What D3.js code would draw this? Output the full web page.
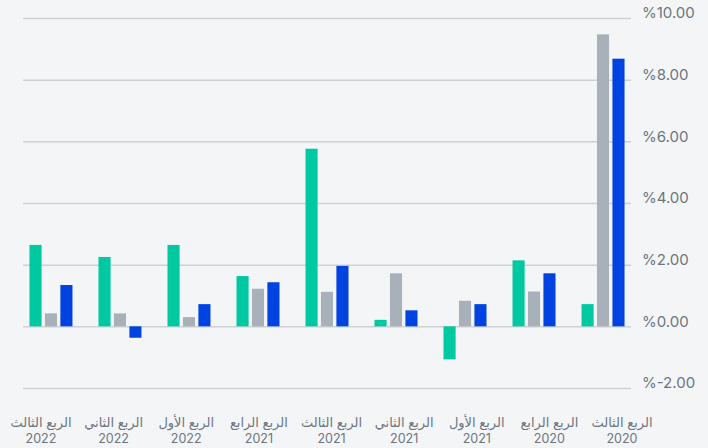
<!DOCTYPE html>
<html>
<head>
<meta charset="utf-8">
<script src="https://cdn.jsdelivr.net/npm/d3@7"></script>
<style>
  html, body { margin: 0; padding: 0; background: #f4f5f7; }
  svg { display: block; }
</style>
</head>
<body>
<div id="chart"></div>
<script>
const width = 708;
const height = 448;

// quarters, left to right as drawn
const quarters = ["الربع الثالث", "الربع الثاني", "الربع الأول", "الربع الرابع", "الربع الثالث", "الربع الثاني", "الربع الأول", "الربع الرابع", "الربع الثالث"];
const years = ["2022", "2022", "2022", "2021", "2021", "2021", "2021", "2020", "2020"];
const categories = quarters.map((q, i) => q + " " + years[i]);

const seriesNames = ["a", "b", "c"];
const seriesColors = ["#00c8a0", "#a8b1b9", "#0043e0"];
const seriesA = [2.64, 2.25, 2.64, 1.63, 5.76, 0.21, -1.07, 2.14, 0.72];
const seriesB = [0.42, 0.42, 0.30, 1.22, 1.12, 1.72, 0.83, 1.13, 9.47];
const seriesC = [1.34, -0.37, 0.72, 1.43, 1.96, 0.52, 0.72, 1.72, 8.68];

const yTicks = [-2, 0, 2, 4, 6, 8, 10];

const svg = d3.select("#chart")
    .append("svg")
    .attr("width", width)
    .attr("height", height);

const y = d3.scaleLinear()
    .domain([-2, 10])
    .range([388, 18]);

const x0 = d3.scaleBand()
    .domain(categories)
    .range([16.5, 637.5])
    .paddingInner(0.377)
    .paddingOuter(0.188);

const x1 = d3.scaleBand()
    .domain(seriesNames)
    .range([0, x0.bandwidth()])
    .paddingInner(0.217);

const xLabel = d3.scalePoint()
    .domain(categories)
    .range([41, 622]);

const color = d3.scaleOrdinal()
    .domain(seriesNames)
    .range(seriesColors);

// grid + right axis
const yAxis = d3.axisRight(y)
    .tickValues(yTicks)
    .tickSize(608)
    .tickFormat(d => "%" + d.toFixed(2));

svg.append("g")
    .attr("transform", "translate(23,0)")
    .call(yAxis)
    .call(g => g.select(".domain").remove())
    .call(g => g.selectAll(".tick line")
        .attr("stroke", "#cdd1d6")
        .attr("stroke-width", 1.5))
    .call(g => g.selectAll(".tick text")
        .attr("x", 619)
        .attr("dy", "-0.02em")
        .attr("fill", "#6b7580")
        .style("font-family", "Inter, 'DejaVu Sans', sans-serif")
        .style("font-size", "15px")
        .style("direction", "ltr"));

const rows = categories.map((c, i) => ({
    cat: c,
    values: [seriesA[i], seriesB[i], seriesC[i]]
}));

svg.append("g")
    .selectAll("g")
    .data(rows)
    .join("g")
    .attr("transform", d => `translate(${x0(d.cat)},0)`)
    .selectAll("rect")
    .data(d => d.values.map((v, j) => ({ key: seriesNames[j], value: v })))
    .join("rect")
    .attr("x", d => x1(d.key))
    .attr("width", x1.bandwidth())
    .attr("y", d => y(Math.max(0, d.value)))
    .attr("height", d => Math.abs(y(d.value) - y(0)))
    .attr("fill", d => color(d.key));

// category labels
const labels = svg.append("g")
    .selectAll("text")
    .data(categories)
    .join("text")
    .attr("x", d => xLabel(d))
    .attr("text-anchor", "middle")
    .attr("fill", "#6b7580")
    .style("font-family", "Inter, 'DejaVu Sans', sans-serif")
    .style("font-size", "12.5px");

labels.append("tspan")
    .attr("x", d => xLabel(d))
    .attr("y", 427)
    .style("font-size", "13px")
    .text((d, i) => quarters[i]);

labels.append("tspan")
    .attr("x", d => xLabel(d))
    .attr("y", 443)
    .text((d, i) => years[i]);
</script>
</body>
</html>
